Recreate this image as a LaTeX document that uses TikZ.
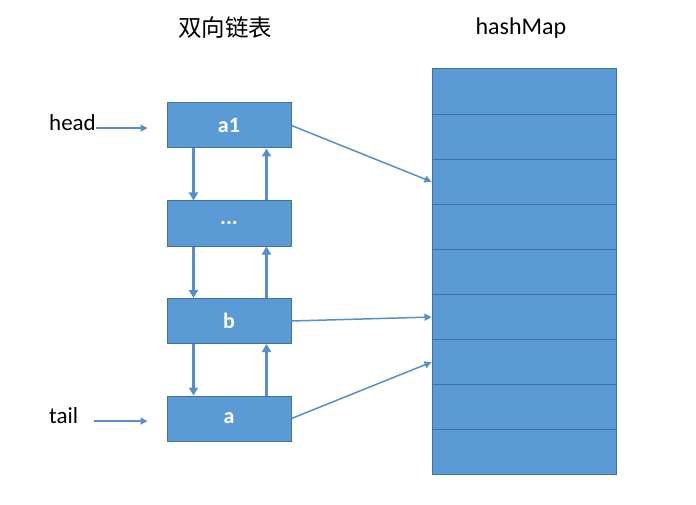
\documentclass[tikz,border=0pt]{standalone}
\usepackage{fontspec}
\setsansfont{Carlito}
\newfontfamily\cjk{Noto Sans CJK SC}
\usetikzlibrary{arrows.meta,positioning}

\definecolor{cellfill}{HTML}{5B9BD5}
\definecolor{celldraw}{HTML}{41719C}
\definecolor{linkblue}{HTML}{5590CC}

\tikzset{
  listbox/.style={draw=celldraw,fill=cellfill,line width=1pt,minimum width=124pt,minimum height=45pt,
    text=white,font=\sffamily\bfseries\fontsize{22}{25}\selectfont},
  hashcell/.style={draw=celldraw,fill=cellfill,line width=1pt,minimum width=184pt,minimum height=45.1pt},
  pointer/.style={draw=linkblue,line width=1.5pt,-{Triangle[length=7pt,width=7pt]}},
  link/.style={draw=linkblue,line width=2.2pt,-{Triangle[length=8pt,width=9pt]}},
  label/.style={inner sep=0pt,font=\sffamily\fontsize{23}{26}\selectfont},
}

\begin{document}
\begin{tikzpicture}[x=1pt,y=-1pt]
\useasboundingbox (0,0) rectangle (696,505);

% titles
\node[inner sep=0pt,font=\cjk\fontsize{23.5}{27}\selectfont] (listtitle) at (225,28) {双向链表};
\node[label,font=\sffamily\fontsize{24}{27}\selectfont] (maptitle) at (521,28) {hashMap};

% the list
\node[listbox] (a1) at (229,125.5) {a1};
\node[listbox] (dots) at (229,223.5) {...};
\node[listbox] (b) at (229,321) {b};
\node[listbox] (a) at (229,418.5) {a};

% the map
\foreach \k in {1,...,9}
  \node[hashcell] (h\k) at (524,{69+22.55+(\k-1)*45.1}) {};

% head and tail
\node[label,anchor=base west] (head) at (49,131) {head};
\node[label,anchor=base west] (tail) at (49,423) {tail};
\draw[pointer,shorten >=19pt] ([yshift=-5pt]head.east) -- ([yshift=-5pt]head.east -| a1.west);
\draw[pointer,shorten <=16pt,shorten >=19pt] ([yshift=-6pt]tail.east) -- ([yshift=-6pt]tail.east -| a.west);

% next / prev
\foreach \u/\v in {a1/dots,dots/b,b/a}{
  \draw[link] ([xshift=27pt]\u.south west) -- ([xshift=27pt]\v.north west);
  \draw[link] ([xshift=-25pt]\v.north east) -- ([xshift=-25pt]\u.south east);
}

% list to map
\draw[pointer] (a1.east) -- (h3.west);
\draw[pointer] (b.east) -- (h6.west);
\draw[pointer] (a.east) -- (h7.west);
\end{tikzpicture}
\end{document}
